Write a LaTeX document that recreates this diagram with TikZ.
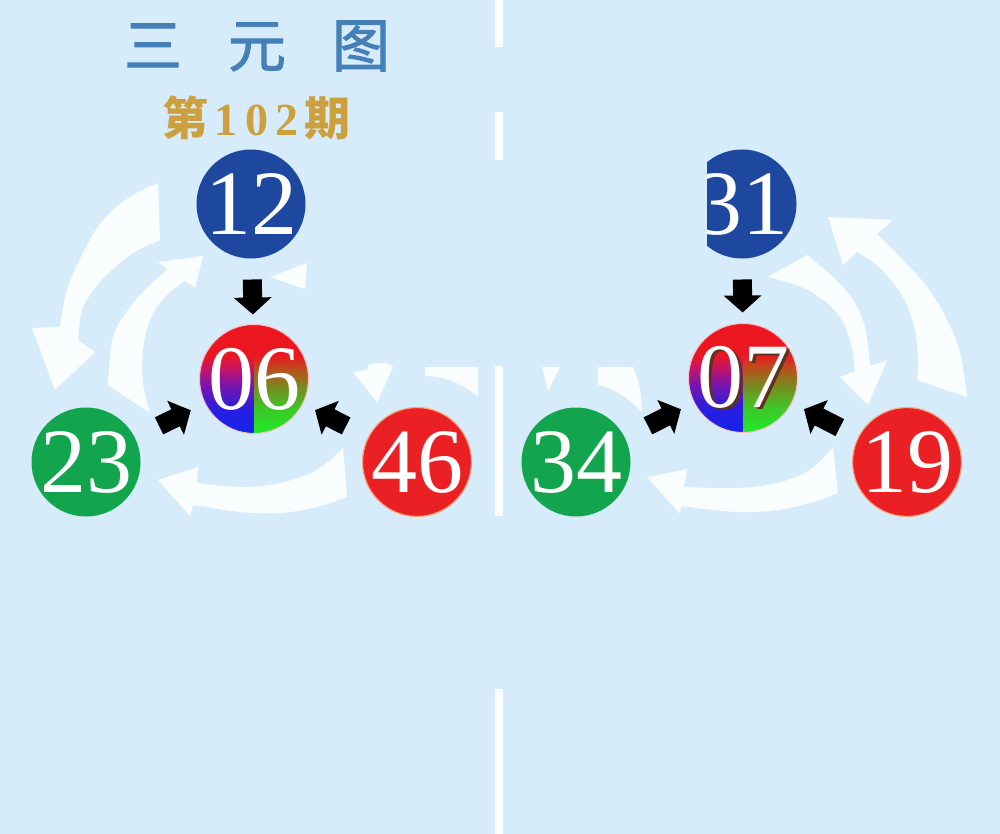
\documentclass[tikz,border=0pt]{standalone}
\usepackage{fontspec}
\setmainfont{Liberation Serif}
\newfontfamily\cjk{Noto Sans CJK SC}
\newfontfamily\cjktitle[FakeBold=1.6]{Noto Sans CJK SC}
\usetikzlibrary{arrows.meta}
\definecolor{bgc}{RGB}{214,236,250}
\definecolor{cblue}{RGB}{30,72,160}
\definecolor{cgreen}{RGB}{18,165,78}
\definecolor{cred}{RGB}{234,32,36}
\definecolor{rimred}{RGB}{250,170,130}
\definecolor{rimmix}{RGB}{250,190,190}
\definecolor{titleblue}{RGB}{70,128,185}
\definecolor{gold}{RGB}{205,160,62}
\definecolor{shadowc}{RGB}{95,50,30}
\definecolor{sA}{RGB}{236,22,32}
\definecolor{lB}{RGB}{200,20,100}
\definecolor{lC}{RGB}{120,20,175}
\definecolor{lD}{RGB}{40,30,225}
\definecolor{lE}{RGB}{20,35,235}
\definecolor{rB}{RGB}{190,75,30}
\definecolor{rC}{RGB}{125,135,30}
\definecolor{rD}{RGB}{60,200,40}
\definecolor{rE}{RGB}{30,235,40}
\pgfdeclareverticalshading{leftsh}{100bp}{color(0bp)=(lE); color(25bp)=(lE); color(36bp)=(lD); color(47bp)=(lC); color(55bp)=(lB); color(61bp)=(sA); color(75bp)=(sA); color(100bp)=(sA)}
\pgfdeclareverticalshading{rightsh}{100bp}{color(0bp)=(rE); color(25bp)=(rE); color(36bp)=(rD); color(47bp)=(rC); color(55bp)=(rB); color(61bp)=(sA); color(75bp)=(sA); color(100bp)=(sA)}
\tikzset{
  ball/.style={circle, minimum size=109pt, inner sep=0pt, outer sep=0pt, text=white,
    font=\fontsize{92}{92}\selectfont},
  blueball/.style={ball, fill=cblue},
  greenball/.style={ball, fill=cgreen},
  redball/.style={ball, fill=cred, draw=rimred, line width=1.2pt},
  mixball/.style={ball, draw=rimmix, line width=1pt,
    path picture={
      \shade[shading=leftsh] (path picture bounding box.south west) rectangle (path picture bounding box.north);
      \shade[shading=rightsh] (path picture bounding box.south) rectangle (path picture bounding box.north east);}},
  blk/.style={line width=19pt, black, -{Triangle[width=37pt,length=17pt]}},
  warr/.style={fill=white, fill opacity=0.9},
  divline/.style={fill=white, fill opacity=0.92},
}
\begin{document}
\begin{tikzpicture}[x=1pt,y=-1pt]
\useasboundingbox (0,0) rectangle (1000,834);
\fill[bgc] (0,0) rectangle (1000,834);

% divider
\fill[divline] (495,0) rectangle (503,47);
\fill[divline] (495,112) rectangle (503,160);
\fill[divline] (495,366) rectangle (503,516);
\fill[divline] (495,689) rectangle (503,834);

% title
\node[text=titleblue, font=\cjktitle\fontsize{58}{58}\selectfont] (title) at (257,46) {三\hspace{46pt}元\hspace{46pt}图};
\node[text=gold, font=\bfseries\fontsize{46}{46}\selectfont] (issue) at (256,118) {{\cjk 第}\hspace{6pt}1\hspace{9pt}0\hspace{7pt}2\hspace{5pt}{\cjk 期}};

% white curved arrows, left panel
\fill[warr] plot[smooth,tension=0.6] coordinates {(158,183) (130,197) (103,220) (83,253) (67,290) (60,327)}
  -- (32,328) -- (55,390) -- (95,352)
  -- plot[smooth,tension=0.6] coordinates {(78,340) (82,310) (95,288) (112,270) (133,253) (160,240)} -- cycle;
\fill[warr] (150,413) -- plot[smooth,tension=0.6] coordinates {(108,385) (113,337) (130,307) (150,285) (168,269)}
  -- (158,262) -- (203,256) -- (195,288)
  -- plot[smooth,tension=0.6] coordinates {(185,281) (165,297) (150,320) (143,350) (143,383) (150,413)} -- cycle;
\fill[warr] plot[smooth,tension=0.6] coordinates {(343,448) (317,470) (280,483) (240,487) (197,483)}
  -- (198,467) -- (158,480) -- (190,516)
  -- plot[smooth,tension=0.6] coordinates {(193,505) (240,512) (280,513) (317,507) (347,497)} -- cycle;
\fill[warr] (270,277) -- (307,263) -- (305,289) -- cycle;
\fill[warr] (353,372) -- (367,370) -- (369,364) -- (386,363) -- (393,367) -- (377,402) -- cycle;
\fill[warr] (425,367) -- (478,367) -- (478,397) .. controls (465,385) and (445,376) .. (425,376) -- cycle;

% white curved arrows, right panel
\fill[warr] (768,277) -- plot[smooth,tension=0.6] coordinates {(807,255) (833,277) (853,300) (865,327) (870,366)}
  -- (887,360) -- (868,405) -- (840,377)
  -- plot[smooth,tension=0.6] coordinates {(855,371) (850,340) (837,313) (813,293) (790,283) (768,277)} -- cycle;
\fill[warr] (917,380) -- plot[smooth,tension=0.6] coordinates {(967,397) (960,353) (947,320) (927,287) (900,257) (877,234)}
  -- (893,220) -- (828,217) -- (843,265)
  -- plot[smooth,tension=0.6] coordinates {(857,252) (880,268) (903,297) (915,330) (918,363) (917,380)} -- cycle;
\fill[warr] plot[smooth,tension=0.6] coordinates {(833,447) (810,470) (777,483) (737,488) (684,487)}
  -- (687,469) -- (647,477) -- (680,514)
  -- plot[smooth,tension=0.6] coordinates {(681,506) (737,512) (777,510) (810,503) (838,493)} -- cycle;
\fill[warr] (542,367) -- (560,367) -- (548,391) -- cycle;
\fill[warr] (598,367) -- (633,367) .. controls (640,385) .. (642,412) .. controls (625,395) and (610,387) .. (598,385) -- cycle;

% balls, left panel
\node[blueball] (n12) at (251,204) {\makebox[0pt]{12}};
\node[mixball] (n06) at (254,379) {\makebox[0pt]{06}};
\node[greenball] (n23) at (86,462) {\makebox[0pt]{23}};
\node[redball] (n46) at (417,462) {\makebox[0pt]{46}};

% balls, right panel
\begin{scope}
\clip (707,0) rectangle (1000,834);
\node[blueball] (n31) at (742,204) {\makebox[0pt]{31}};
\end{scope}
\node[mixball] (n07) at (743,378) {\makebox[0pt]{\hspace{6pt}\raisebox{-2pt}{\textcolor{shadowc}{07}}}\makebox[0pt]{07}};
\node[greenball] (n34) at (576,462) {\makebox[0pt]{34}};
\node[redball] (n19) at (907,462) {\makebox[0pt]{19}};

% black block arrows
\draw[blk, shorten <=21pt, shorten >=10pt] (n12) -- (n06);
\draw[blk, shorten <=27pt, shorten >=16pt] (n23) -- (n06);
\draw[blk, shorten <=25pt, shorten >=14pt] (n46) -- (n06);
\draw[blk, shorten <=21pt, shorten >=11pt] (n31) -- (n07);
\draw[blk, shorten <=26pt, shorten >=15pt] (n34) -- (n07);
\draw[blk, shorten <=21pt, shorten >=14pt] (n19) -- (n07);
\end{tikzpicture}
\end{document}
